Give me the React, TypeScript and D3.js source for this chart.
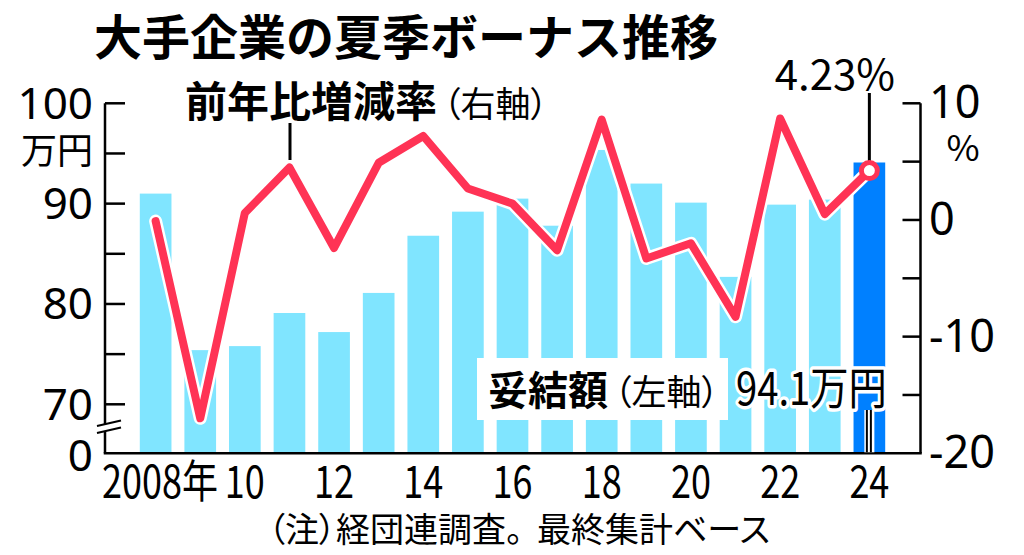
import React from 'react';
import * as d3 from 'd3';

const years = [2008, 2009, 2010, 2011, 2012, 2013, 2014, 2015, 2016, 2017, 2018, 2019, 2020, 2021, 2022, 2023, 2024];
const bonusAmounts = [91.0, 75.4, 75.8, 79.1, 77.2, 81.1, 86.8, 89.2, 90.5, 87.8, 95.35, 92.0, 90.1, 82.7, 89.9, 90.4, 94.1];
const changeRates = [-0.1, -17.0, 0.6, 4.5, -2.4, 4.9, 7.2, 2.7, 1.4, -2.6, 8.6, -3.3, -2.0, -8.3, 8.7, 0.5, 4.23];
const leftTicks = [70, 75, 80, 85, 90, 95, 100];
const leftLabels = [100, 90, 80, 70];
const rightTicks = [10, 5, 0, -5, -10, -15];
const rightLabels = [10, 0, -10, -20];
const xLabelYears = [2010, 2012, 2014, 2016, 2018, 2020, 2022, 2024];

const FONT = "'Noto Sans CJK JP', 'Noto Sans', sans-serif";
const DIGIT_FONT = "'Noto Sans', 'Noto Sans CJK JP', sans-serif";
const BAR = '#80E5FF';
const BAR_LAST = '#0080FF';
const RED = '#FF3355';

export default function App() {
  const x = d3.scaleBand<number>().domain(years).range([105, 920]).paddingInner(0.29).paddingOuter(0.78);
  const yL = d3.scaleLinear().domain([70, 100]).range([404.3, 103.3]);
  const yR = d3.scaleLinear().domain([-20, 10]).range([453.3, 103.3]);
  const baseY = 453.3;
  const cx = (yr: number) => (x(yr) as number) + x.bandwidth() / 2;
  const line = d3.line<number>().x((_, i) => cx(years[i])).y((d) => yR(d));
  const path = line(changeRates) || '';
  const lastYear = years[years.length - 1];
  const lastX = cx(lastYear);
  const lastY = yR(changeRates[changeRates.length - 1]);
  const axisL = 105;
  const axisR = 920.5;
  const palt = { fontFeatureSettings: '"palt"' };

  return (
    <svg width={1024} height={555} style={{ position: 'absolute', left: 0, top: 0, background: '#fff' }} fontFamily={FONT}>
      <rect x={0} y={0} width={1024} height={555} fill="#fff" />
      {/* title */}
      <text x={94} y={55} fontSize={48} fontWeight={700} fill="#000">大手企業の夏季ボーナス推移</text>

      {/* bars */}
      {years.map((yr, i) => (
        <rect key={yr} x={x(yr)} y={yL(bonusAmounts[i])} width={x.bandwidth()} height={baseY - yL(bonusAmounts[i])}
          fill={yr === lastYear ? BAR_LAST : BAR} />
      ))}

      {/* line */}
      <path d={path} fill="none" stroke="#fff" strokeWidth={13} strokeLinejoin="round" strokeLinecap="round" />
      <path d={path} fill="none" stroke={RED} strokeWidth={8} strokeLinejoin="round" strokeLinecap="round" />

      {/* axes */}
      <line x1={axisL} y1={103.3} x2={axisL} y2={baseY} stroke="#000" strokeWidth={2.5} />
      <line x1={axisR} y1={103.3} x2={axisR} y2={baseY} stroke="#000" strokeWidth={2.5} />
      <line x1={axisL - 1.25} y1={baseY} x2={axisR + 1.25} y2={baseY} stroke="#000" strokeWidth={2.5} />
      {leftTicks.map((t) => (
        <line key={t} x1={axisL} x2={axisL + 20} y1={yL(t)} y2={yL(t)} stroke="#000" strokeWidth={2.5} />
      ))}
      {rightTicks.map((t) => (
        <line key={t} x1={axisR - 18} x2={axisR} y1={yR(t)} y2={yR(t)} stroke="#000" strokeWidth={2.5} />
      ))}
      {/* axis break */}
      <polygon points="97,426 121,420.5 121,427.5 97,433" fill="#fff" />
      <line x1={97} y1={426} x2={121} y2={420.5} stroke="#000" strokeWidth={2} />
      <line x1={97} y1={433} x2={121} y2={427.5} stroke="#000" strokeWidth={2} />

      {/* left labels */}
      {leftLabels.map((t) => (
        <text key={t} x={93} y={yL(t) + 15.5} fontSize={44} fontFamily={DIGIT_FONT} textAnchor="end" fill="#000">{t}</text>
      ))}
      <text x={93} y={471} fontSize={44} fontFamily={DIGIT_FONT} textAnchor="end" fill="#000">0</text>
      <text x={93} y={164} fontSize={36} textAnchor="end" fill="#000">万円</text>

      {/* right labels */}
      {rightLabels.map((t) => (
        <text key={t} x={929} y={yR(t) + 15} fontSize={45} fontFamily={DIGIT_FONT} fill="#000">{t < 0 ? '-' + Math.abs(t) : String(t)}</text>
      ))}
      <text x={963} y={161} fontSize={36} textAnchor="middle" fill="#000">%</text>

      {/* x labels */}
      <text transform={`translate(102,498) scale(0.8,1)`} fontSize={45} fill="#000">2008年</text>
      {xLabelYears.map((yr) => (
        <text key={yr} transform={`translate(${cx(yr)},498) scale(0.8,1)`} fontSize={45} textAnchor="middle" fill="#000">
          {String(yr).slice(2)}
        </text>
      ))}

      {/* series label: change rate */}
      <text x={185} y={117} fill="#000" style={palt}>
        <tspan fontSize={42} fontWeight={700}>前年比増減率</tspan>
        <tspan fontSize={35} dx={6}>（右軸）</tspan>
      </text>
      <line x1={290} y1={123} x2={290} y2={160} stroke="#000" strokeWidth={3} />

      {/* series label: amount */}
      <rect x={477} y={358} width={251} height={62} fill="#fff" />
      <text x={488} y={405} fill="#000" style={palt}>
        <tspan fontSize={40} fontWeight={700}>妥結額</tspan>
        <tspan fontSize={35} dx={6}>（左軸）</tspan>
      </text>

      {/* 94.1 leader */}
      <line x1={lastX} y1={410} x2={lastX} y2={baseY - 1} stroke="#fff" strokeWidth={10} />
      <line x1={lastX - 2.5} y1={410} x2={lastX - 2.5} y2={baseY - 1} stroke="#000" strokeWidth={2} />
      <line x1={lastX + 1.5} y1={410} x2={lastX + 1.5} y2={baseY - 1} stroke="#000" strokeWidth={2} />
      <text transform={`translate(736,405) scale(0.85,1)`} fontSize={45} fill="#000" stroke="#fff" strokeWidth={7}
        strokeLinejoin="round" style={{ paintOrder: 'stroke' }}>94.1万円</text>

      {/* 4.23% annotation */}
      <line x1={lastX} y1={93} x2={lastX} y2={lastY - 8} stroke="#000" strokeWidth={3} />
      <circle cx={lastX} cy={lastY} r={8} fill="#fff" stroke={RED} strokeWidth={5} />
      <text x={895} y={90} fontSize={42} textAnchor="end" fill="#000">4.23%</text>

      {/* note */}
      <text x={268} y={542} fontSize={34} fill="#000" style={palt}>
        <tspan>（注）経団連調査。</tspan>
        <tspan dx={14}>最終集計ベース</tspan>
      </text>
    </svg>
  );
}
